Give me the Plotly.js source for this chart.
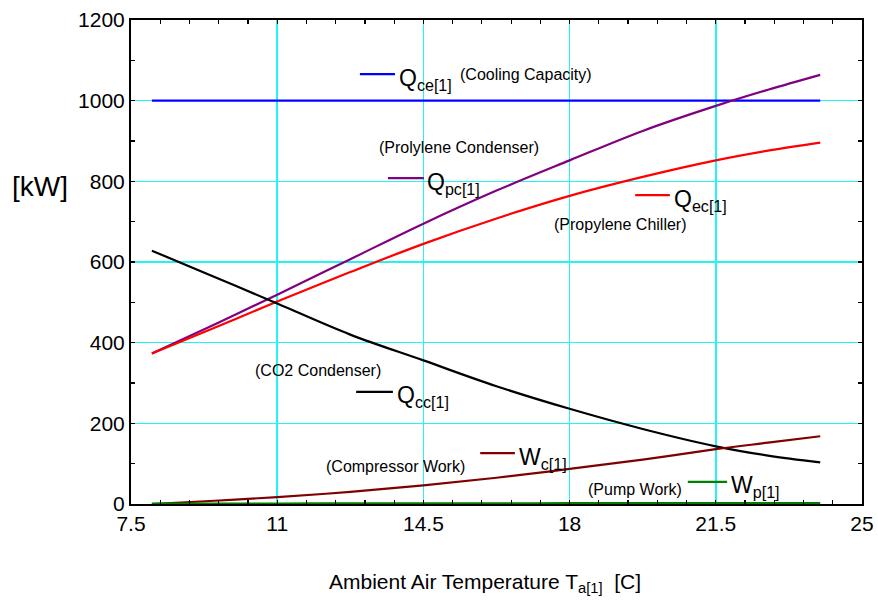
<!DOCTYPE html>
<html>
<head>
<meta charset="utf-8">
<script src="https://cdn.plot.ly/plotly-3.0.1.min.js"></script>
<style>html,body{margin:0;padding:0;background:#fff;}#chart{width:878px;height:604px;}</style>
</head>
<body>
<div id="chart"></div>
<script>
// Ambient air temperature [C]
var temps = [8, 9.5, 11, 12.75, 14.5, 16.25, 18, 19.75, 21.5, 22.75, 24];
// Series values [kW]
var qce = [1000, 1000, 1000, 1000, 1000, 1000, 1000, 1000, 1000, 1000, 1000];
var qpc = [373, 445, 519, 607, 695, 777, 852, 925, 987, 1027, 1064];
var qec = [373, 437, 502, 575, 645, 708, 764, 811, 852, 876, 896];
var qcc = [628, 563, 497, 420, 356, 292, 236, 186, 143, 120, 103];
var wc  = [0, 8, 17, 30, 46, 65, 87, 110, 136, 152, 168];
var wp  = [1, 1, 1, 1.5, 1.5, 1.5, 2, 2, 2, 2, 2];
var xTicks = [7.5, 11, 14.5, 18, 21.5, 25];
var yTicks = [0, 200, 400, 600, 800, 1000, 1200];

var colors = {qce:'#0000ff', qpc:'#800080', qec:'#ff0000', qcc:'#000000', wc:'#800000', wp:'#008000'};
var FONT = 'Liberation Sans, Arial, Helvetica, sans-serif';

function tr(y, c){ return {x: temps, y: y, mode:'lines', line:{color:c, width:2.2, shape:'spline'}, hoverinfo:'skip', showlegend:false}; }
var data = [tr(qce, colors.qce), tr(qpc, colors.qpc), tr(qec, colors.qec), tr(qcc, colors.qcc), tr(wc, colors.wc), tr(wp, colors.wp),
  {x:[7.5], y:[0], xaxis:'x2', yaxis:'y2', mode:'markers', marker:{opacity:0}, hoverinfo:'skip', showlegend:false}];

var labels = [
  {c:colors.qce, x0:12.98, x1:13.82, y:1066, t:'Q<sub>ce[1]</sub>'},
  {c:colors.qpc, x0:13.65, x1:14.51, y:808, t:'Q<sub>pc[1]</sub>'},
  {c:colors.qec, x0:19.57, x1:20.40, y:766, t:'Q<sub>ec[1]</sub>'},
  {c:colors.qcc, x0:12.89, x1:13.77, y:278, t:'Q<sub>cc[1]</sub>'},
  {c:colors.wc,  x0:15.86, x1:16.69, y:126, t:'W<sub>c[1]</sub>'},
  {c:colors.wp,  x0:20.83, x1:21.77, y:55,  t:'W<sub>p[1]</sub>'}
];
var notes = [
  {t:'(Cooling Capacity)', x:15.33, y:1064, a:'left'},
  {t:'(Prolylene Condenser)', x:15.35, y:885, a:'center'},
  {t:'(Propylene Chiller)', x:19.23, y:692, a:'center'},
  {t:'(CO2 Condenser)', x:11.98, y:332, a:'center'},
  {t:'(Compressor Work)', x:13.84, y:94, a:'center'},
  {t:'(Pump Work)', x:19.57, y:37, a:'center'}
];

var shapes = [], annotations = [];
labels.forEach(function(l){
  shapes.push({type:'line', xref:'x', yref:'y', x0:l.x0, x1:l.x1, y0:l.y, y1:l.y, line:{color:l.c, width:2.2}});
  annotations.push({xref:'x', yref:'y', x:l.x1 + 0.04, y:l.y, text:l.t, showarrow:false, xanchor:'left', yanchor:'middle', yshift:-5, font:{family:FONT, size:23, color:'#000'}});
});
notes.forEach(function(n){
  annotations.push({xref:'x', yref:'y', x:n.x, y:n.y, text:n.t, showarrow:false, xanchor:n.a, yanchor:'middle', font:{family:FONT, size:16, color:'#000'}});
});
annotations.push({xref:'paper', yref:'paper', x:-0.1245, y:0.655, text:'[kW]', showarrow:false, xanchor:'center', yanchor:'middle', font:{family:FONT, size:28, color:'#000'}});
annotations.push({xref:'paper', yref:'paper', x:0.484, y:-0.163, text:'Ambient Air Temperature T<sub>a[1]</sub>&nbsp;&nbsp;[C]', showarrow:false, xanchor:'center', yanchor:'middle', font:{family:FONT, size:21, color:'#000'}});

var gridC = '#22f4f4';
var minorX = {tickmode:'linear', dtick:0.7, tick0:7.5, ticks:'inside', ticklen:4, tickwidth:1.2, tickcolor:'#000', showgrid:false};
var minorY = {tickmode:'linear', dtick:100, tick0:0, ticks:'inside', ticklen:4, tickwidth:1.2, tickcolor:'#000', showgrid:false};
var layout = {
  width: 878, height: 604,
  margin: {l:131, r:16, t:20, b:100},
  paper_bgcolor:'#fff', plot_bgcolor:'#fff',
  font: {family: FONT, color:'#000'},
  xaxis: {
    range:[7.5, 25], tickmode:'linear', tick0:xTicks[0], dtick:xTicks[1]-xTicks[0],
    showgrid:true, gridcolor:gridC, gridwidth:1.5, zeroline:false,
    showline:true, linecolor:'#000', linewidth:2, mirror:true,
    ticks:'inside', ticklen:4, tickwidth:1.2, tickcolor:'#000', tickfont:{family:FONT, size:21, color:'#000'},
    minor: minorX
  },
  yaxis: {
    range:[0, 1200], tickmode:'linear', tick0:yTicks[0], dtick:yTicks[1]-yTicks[0],
    showgrid:true, gridcolor:gridC, gridwidth:1.5, zeroline:false,
    showline:true, linecolor:'#000', linewidth:2, mirror:true,
    ticks:'inside', ticklen:4, tickwidth:1.2, tickcolor:'#000', tickfont:{family:FONT, size:21, color:'#000'},
    minor: minorY
  },
  xaxis2: {
    overlaying:'x', side:'top', anchor:'y2', range:[7.5, 25], showgrid:false, zeroline:false, showline:false,
    tickmode:'linear', tick0:xTicks[0], dtick:xTicks[1]-xTicks[0], showticklabels:false, ticks:'inside', ticklen:4, tickwidth:1.2, tickcolor:'#000',
    minor: minorX
  },
  yaxis2: {
    overlaying:'y', side:'right', anchor:'x2', range:[0, 1200], showgrid:false, zeroline:false, showline:false,
    tickmode:'linear', tick0:yTicks[0], dtick:yTicks[1]-yTicks[0], showticklabels:false, ticks:'inside', ticklen:4, tickwidth:1.2, tickcolor:'#000',
    minor: minorY
  },
  shapes: shapes,
  annotations: annotations,
  showlegend:false
};
Plotly.newPlot('chart', data, layout, {displayModeBar:false, staticPlot:true});
</script>
</body>
</html>
